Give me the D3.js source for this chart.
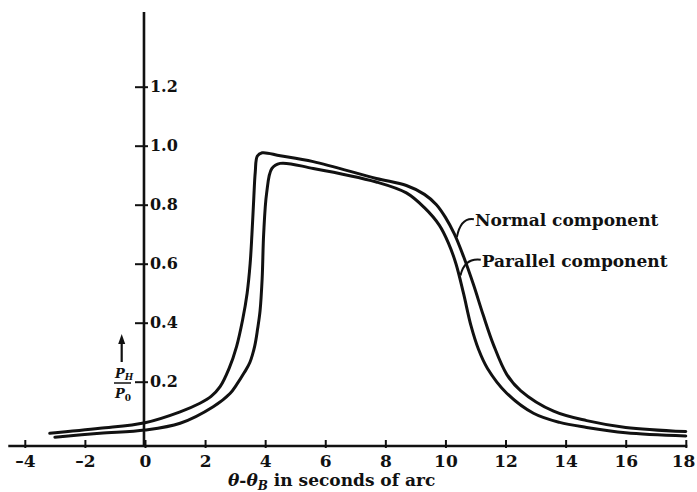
<!DOCTYPE html>
<html>
<head>
<meta charset="utf-8">
<script src="https://cdn.jsdelivr.net/npm/d3@7"></script>
<style>
  body { margin: 0; background: #fff; }
  svg { display: block; }
  text { font-family: "DejaVu Serif", "Liberation Serif", serif; font-weight: bold; fill: #111; }
</style>
</head>
<body>
<div id="chart"></div>
<script>
// angle offset theta - theta_B (seconds of arc) and reflected power ratio
var normalX = [-3.17, -1.5, 0, 1.17, 1.83, 2.2, 2.5, 2.8, 3.05, 3.25, 3.4, 3.5, 3.56, 3.62, 3.67, 3.74, 3.9, 4.5, 5.6, 7.7, 8.7, 9.3, 9.7, 10.0, 10.3, 10.6, 10.93, 11.26, 11.6, 12.04, 12.5, 13.6, 14.7, 16, 18];
var normalY = [0.025, 0.042, 0.061, 0.098, 0.127, 0.15, 0.183, 0.245, 0.32, 0.41, 0.5, 0.6, 0.7, 0.82, 0.91, 0.965, 0.976, 0.966, 0.946, 0.889, 0.865, 0.835, 0.8, 0.757, 0.7, 0.625, 0.53, 0.425, 0.325, 0.225, 0.17, 0.1, 0.068, 0.045, 0.031];

var parallelX = [-3.0, -1.5, 0, 1.17, 2.27, 2.83, 3.05, 3.3, 3.49, 3.65, 3.75, 3.83, 3.9, 3.95, 4.05, 4.22, 4.5, 5.6, 7.7, 8.7, 9.3, 9.8, 10.1, 10.35, 10.6, 10.85, 11.1, 11.4, 12.04, 12.93, 13.8, 14.7, 16, 18];
var parallelY = [0.012, 0.025, 0.036, 0.059, 0.115, 0.16, 0.19, 0.23, 0.265, 0.32, 0.38, 0.44, 0.55, 0.7, 0.84, 0.922, 0.94, 0.923, 0.877, 0.84, 0.79, 0.73, 0.67, 0.6, 0.5, 0.39, 0.31, 0.245, 0.161, 0.093, 0.062, 0.045, 0.027, 0.016];

var xTicks = [-4, -2, 0, 2, 4, 6, 8, 10, 12, 14, 16, 18];
var yTicks = [0.2, 0.4, 0.6, 0.8, 1.0, 1.2];

var seriesNames = ["Normal component", "Parallel component"];
// where each label's leader touches its curve, and where the label starts
var leaderTip = [[10.38, 0.69], [10.5, 0.56]];
var labelPos = [[10.98, 0.727], [11.21, 0.59]];

var width = 697, height = 492;

var x = d3.scaleLinear().domain([-4, 18]).range([24.8, 685.8]);
var y = d3.scaleLinear().domain([0, 1.2]).range([440.7, 86.7]);
var yAxisBottom = -0.018, yAxisTop = 1.453;

var svg = d3.select("#chart").append("svg")
    .attr("width", width)
    .attr("height", height);

// x axis
var xAxis = d3.axisBottom(x)
    .tickValues(xTicks)
    .tickSize(-6)
    .tickPadding(9)
    .tickFormat(function(d) { return d < 0 ? "\u2013" + Math.abs(d) : d; });

var gx = svg.append("g")
    .attr("transform", "translate(0," + y(yAxisBottom) + ")")
    .call(xAxis);
gx.select(".domain").remove();
gx.selectAll(".tick line").attr("stroke", "#111").attr("stroke-width", 2).attr("y2", -6).attr("y1", 2);
gx.selectAll(".tick text").style("font-size", "17px").attr("fill", "#111")
    .attr("text-anchor", function(d) { return d === 18 ? "end" : "middle"; })
    .attr("dx", function(d) { return d === 18 ? 9 : 0; });
gx.append("line")
    .attr("x1", x(-4.55)).attr("x2", x(18.05))
    .attr("y1", 0).attr("y2", 0)
    .attr("stroke", "#111").attr("stroke-width", 2.6);

// y axis
var yAxis = d3.axisRight(y)
    .tickValues(yTicks)
    .tickSize(4)
    .tickPadding(2)
    .tickFormat(d3.format(".1f"));

var gy = svg.append("g")
    .attr("transform", "translate(" + (x(0) - 1) + ",0)")
    .call(yAxis);
gy.select(".domain").remove();
gy.selectAll(".tick line").attr("stroke", "#111").attr("stroke-width", 2).attr("x1", -9);
gy.selectAll(".tick text").style("font-size", "16px").attr("fill", "#111");
gy.append("line")
    .attr("x1", 0).attr("x2", 0)
    .attr("y1", y(yAxisTop)).attr("y2", y(yAxisBottom))
    .attr("stroke", "#111").attr("stroke-width", 2.6);

// curves
var line = d3.line()
    .x(function(d) { return x(d[0]); })
    .y(function(d) { return y(d[1]); })
    .curve(d3.curveCatmullRom.alpha(0.5));

var series = [d3.zip(normalX, normalY), d3.zip(parallelX, parallelY)];

svg.selectAll(".curve")
    .data(series)
    .enter().append("path")
    .attr("class", "curve")
    .attr("d", line)
    .attr("fill", "none")
    .attr("stroke", "#111")
    .attr("stroke-width", 3)
    .attr("stroke-linejoin", "round")
    .attr("stroke-linecap", "round");

// labels with leaders
seriesNames.forEach(function(name, i) {
    var tx = x(leaderTip[i][0]), ty = y(leaderTip[i][1]);
    var lx = x(labelPos[i][0]), ly = y(labelPos[i][1]);
    svg.append("path")
        .attr("d", "M" + tx + "," + ty + " Q" + (tx + 4) + "," + (ly - 9) + " " + (lx - 1) + "," + (ly - 7))
        .attr("fill", "none")
        .attr("stroke", "#111")
        .attr("stroke-width", 2);
    svg.append("text")
        .attr("x", lx)
        .attr("y", ly)
        .style("font-size", "17px")
        .text(name);
});

// x axis title
var xt = svg.append("text")
    .attr("x", 228)
    .attr("y", 486)
    .style("font-size", "17px");
xt.append("tspan").style("font-style", "italic").text("\u03b8");
xt.append("tspan").text("-");
xt.append("tspan").style("font-style", "italic").text("\u03b8");
xt.append("tspan").attr("dy", 4).style("font-size", "12px").style("font-style", "italic").text("B");
xt.append("tspan").attr("dy", -4).text(" in seconds of arc");

// y axis label: arrow and P_H / P_0
var ax = 121.7;
svg.append("line")
    .attr("x1", ax).attr("x2", ax)
    .attr("y1", 362).attr("y2", 342)
    .attr("stroke", "#111").attr("stroke-width", 2.2);
svg.append("path")
    .attr("d", "M" + (ax - 3.5) + ",344 L" + ax + ",334 L" + (ax + 3.5) + ",344 Z")
    .attr("fill", "#111");

var num = svg.append("text").attr("x", 115).attr("y", 378).style("font-size", "13px");
num.append("tspan").style("font-style", "italic").text("P");
num.append("tspan").attr("dy", 2).style("font-size", "9px").style("font-style", "italic").text("H");
svg.append("line")
    .attr("x1", 114).attr("x2", 131)
    .attr("y1", 383).attr("y2", 383)
    .attr("stroke", "#111").attr("stroke-width", 1.5);
var den = svg.append("text").attr("x", 115).attr("y", 398).style("font-size", "13px");
den.append("tspan").style("font-style", "italic").text("P");
den.append("tspan").attr("dy", 3).style("font-size", "9px").text("0");
</script>
</body>
</html>
